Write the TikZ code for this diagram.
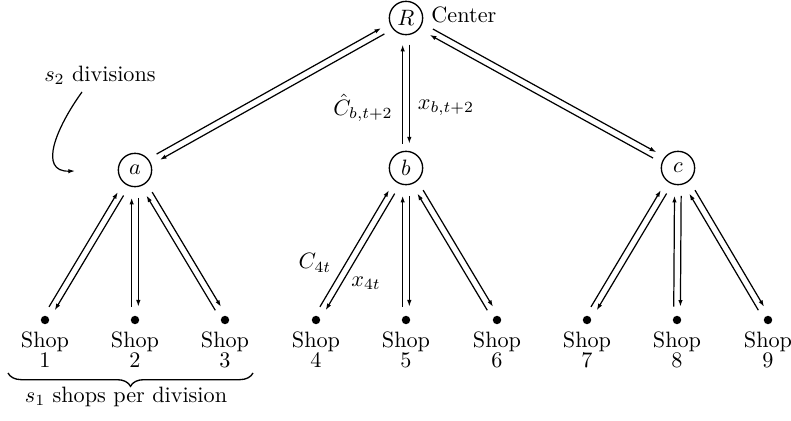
\documentclass[tikz,border=0pt]{standalone}
\usetikzlibrary{calc,arrows.meta,decorations.pathreplacing}
\tikzset{
  hub/.style={circle,draw,line width=0.6pt,minimum size=15pt,inner sep=0pt},
  shopdot/.style={circle,fill,minimum size=3.8pt,inner sep=0pt},
  shoplab/.style={align=center,anchor=north,inner sep=0pt},
  arr/.style={line width=0.55pt,-{Latex[length=3pt,width=2pt]}},
  plain/.style={inner sep=0pt},
}
\newcommand\updown[4]{%
  \coordinate (p-#2) at ($(#1)!#3!(#2)$);
  \coordinate (c-#2) at ($(#2)!#4!(#1)$);
  \draw[arr] ($(c-#2)!1.5pt!90:(p-#2)$) -- ($(p-#2)!1.5pt!-90:(c-#2)$);
  \draw[arr] ($(p-#2)!1.5pt!90:(c-#2)$) -- ($(c-#2)!1.5pt!-90:(p-#2)$);
}
\begin{document}
\begin{tikzpicture}[x=0.45pt,y=-0.45pt]
\useasboundingbox (0,0) rectangle (791,421);
% hubs
\node[hub] (R) at (406,18) {$R$};
\node[hub] (a) at (135,170) {$a$};
\node[hub] (b) at (406,168) {$b$};
\node[hub] (c) at (678,168) {$c$};
\node[plain,anchor=west] (cen) at (431,15) {Center};
% shops
\foreach \i/\x in {1/45,2/135,3/225,4/316,5/406,6/497,7/587,8/677,9/768}{
  \node[shopdot] (s\i) at (\x,320) {};
  \node[shoplab] (l\i) at (\x,331) {Shop\\[-2.6pt]\i};
}
% connectors
\updown{R}{a}{12pt}{12pt}
\updown{R}{b}{12pt}{11pt}
\updown{R}{c}{13pt}{12pt}
\updown{a}{s1}{12.5pt}{6pt}
\updown{a}{s2}{12.5pt}{6pt}
\updown{a}{s3}{12.5pt}{6pt}
\updown{b}{s4}{12.5pt}{6pt}
\updown{b}{s5}{12.5pt}{6pt}
\updown{b}{s6}{12.5pt}{6pt}
\updown{c}{s7}{12.5pt}{6pt}
\updown{c}{s8}{12.5pt}{6pt}
\updown{c}{s9}{12.5pt}{6pt}
% labels
\node[plain] (chat) at (363,108) {$\hat{C}_{b,t+2}$};
\node[plain] (xb) at (446,108) {$x_{b,t+2}$};
\node[plain] (c4) at (315,263) {$C_{4t}$};
\node[plain] (x4) at (366,283) {$x_{4t}$};
% divisions note
\node[plain] (div) at (100,75) {$s_2$ divisions};
\coordinate (cs) at (82,92);
\coordinate (ce) at (75,171);
\draw[arr] (cs) .. controls (56,128) and (38,172) .. (ce);
% brace
\coordinate (b1) at (8,373);
\coordinate (b2) at (253,373);
\draw[line width=0.6pt,decorate,decoration={brace,mirror,amplitude=6pt}] (b1) -- (b2);
\node[plain] (spd) at (126,397) {$s_1$ shops per division};
\end{tikzpicture}
\end{document}
